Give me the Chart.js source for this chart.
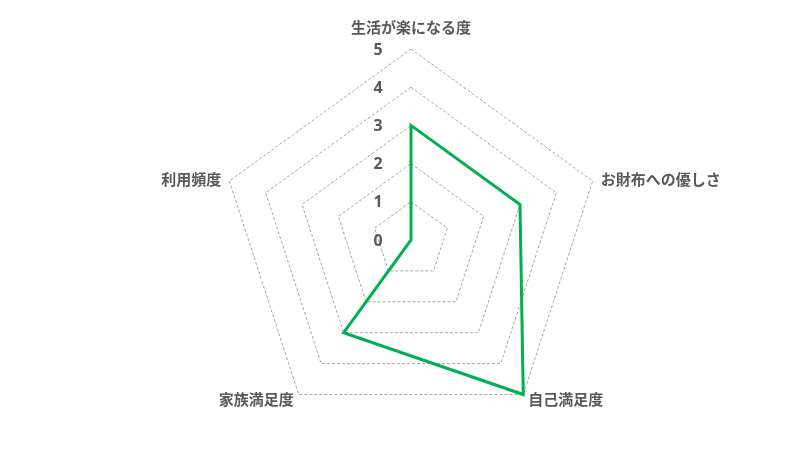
<!DOCTYPE html>
<html>
<head>
<meta charset="utf-8">
<script src="https://cdn.jsdelivr.net/npm/chart.js@4/dist/chart.umd.min.js"></script>
<style>
  html, body { margin: 0; padding: 0; background: #fff; }
  #wrap { width: 800px; height: 453px; }
</style>
</head>
<body>
<div id="wrap"><canvas id="radarChart"></canvas></div>
<script>
var categories = ["生活が楽になる度", "お財布への優しさ", "自己満足度", "家族満足度", "利用頻度"];
var scores = [3, 3, 5, 3, 0];
var tickValues = [0, 1, 2, 3, 4, 5];

// ticks left of the vertical axis and category labels next to the outer corners
var radarText = {
    id: "radarText",
    afterDraw: function(chart) {
        var scale = chart.scales.r;
        var ctx = chart.ctx;
        ctx.save();
        ctx.fillStyle = "#595959";
        ctx.textBaseline = "middle";

        ctx.font = "bold 16px 'Noto Sans', sans-serif";
        ctx.textAlign = "center";
        tickValues.forEach(function(v) {
            var p = scale.getPointPositionForValue(0, v);
            ctx.fillText(String(v), p.x - 33, p.y + 1);
        });

        ctx.font = "bold 15px 'Noto Sans CJK JP', sans-serif";
        categories.forEach(function(label, i) {
            var p = scale.getPointPosition(i, scale.drawingArea);
            var dx = p.x - scale.xCenter;
            var dy = p.y - scale.yCenter;
            var x = p.x, y = p.y;
            if (Math.abs(dx) < 1) {
                ctx.textAlign = "center";
                y = p.y - 22;
            } else {
                ctx.textAlign = dx > 0 ? "left" : "right";
                var gap = dy > 0 ? 5 : 8;
                x = p.x + (dx > 0 ? gap : -gap);
                y = p.y + (dy > 0 ? 5 : -2);
            }
            ctx.fillText(label, x, y);
        });
        ctx.restore();
    }
};

document.addEventListener("DOMContentLoaded", function() {
    var ctx = document.getElementById("radarChart").getContext("2d");
    new Chart(ctx, {
        type: "radar",
        data: {
            labels: categories,
            datasets: [{
                data: scores,
                borderColor: "#00B050",
                borderWidth: 3,
                backgroundColor: "rgba(0,0,0,0)",
                fill: false,
                pointRadius: 0,
                tension: 0
            }]
        },
        options: {
            responsive: true,
            maintainAspectRatio: false,
            animation: false,
            layout: { padding: { top: 49, bottom: 22, left: 22, right: 0 } },
            plugins: { legend: { display: false }, tooltip: { enabled: false } },
            scales: {
                r: {
                    min: 0,
                    max: 5,
                    ticks: { stepSize: 1, display: false },
                    angleLines: { display: false },
                    grid: { color: "#a6a6a6", lineWidth: 1 },
                    border: { dash: [3, 2] },
                    pointLabels: { display: false }
                }
            }
        },
        plugins: [radarText]
    });
});
</script>
</body>
</html>
